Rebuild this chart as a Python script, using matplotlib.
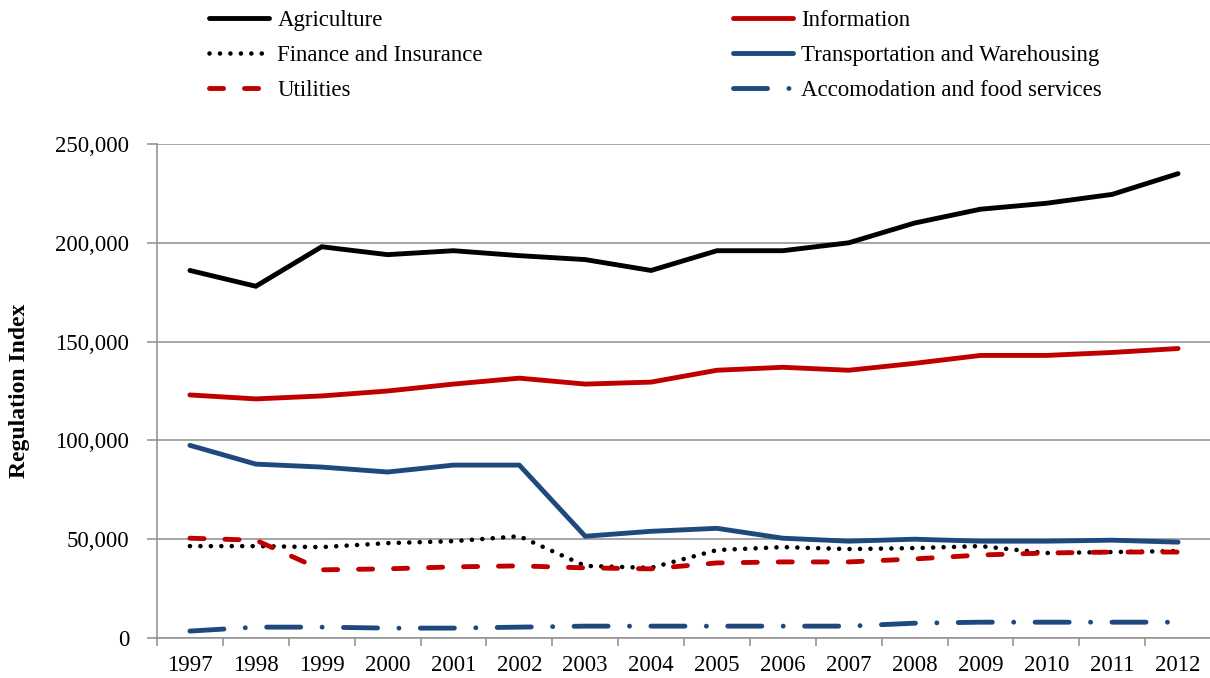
import numpy as np
import matplotlib.pyplot as plt
from matplotlib.ticker import FuncFormatter, MultipleLocator

plt.rcParams['font.family'] = ['Liberation Serif', 'DejaVu Serif']

years = [str(y) for y in range(1997, 2013)]

agriculture = [186000, 178000, 198000, 194000, 196000, 193500, 191500, 186000,
               196000, 196000, 200000, 210000, 217000, 220000, 224500, 235000]
information = [123000, 121000, 122500, 125000, 128500, 131500, 128500, 129500,
               135500, 137000, 135500, 139000, 143000, 143000, 144500, 146500]
finance = [46500, 46500, 46000, 48000, 49000, 51500, 36500, 35500,
           44500, 46000, 45000, 45500, 46500, 43000, 43500, 44000]
transportation = [97500, 88000, 86500, 84000, 87500, 87500, 51500, 54000,
                  55500, 50500, 49000, 50000, 49000, 49000, 49500, 48500]
utilities = [50500, 49500, 34500, 35000, 36000, 36500, 35500, 35000,
             38000, 38500, 38500, 40000, 42000, 43000, 43500, 43500]
accommodation = [3500, 5500, 5500, 5000, 5000, 5500, 6000, 6000,
                 6000, 6000, 6000, 7500, 8000, 8000, 8000, 8000]

RED = '#C00000'
BLUE = '#1F497D'
GRID = '#969696'
FS = 16.5

fig = plt.figure(figsize=(12.1, 6.78), dpi=100)
ax = fig.add_axes([157 / 1210, 1 - 638 / 678, 1054 / 1210, (638 - 144) / 678])

x = np.arange(len(years))
lw = 3.5

ax.plot(x, agriculture, color='black', lw=lw, label='Agriculture',
        solid_joinstyle='miter', solid_capstyle='round')
ax.plot(x, finance, color='black', lw=3.3, dashes=(0.01, 2.27),
        dash_capstyle='round', label='Finance and Insurance')
ax.plot(x, utilities, color=RED, lw=lw, dashes=(2.9, 4.3),
        dash_capstyle='round', label='Utilities')
ax.plot(x, information, color=RED, lw=lw, label='Information',
        solid_capstyle='round')
ax.plot(x, transportation, color=BLUE, lw=lw, solid_capstyle='round',
        label='Transportation and Warehousing')
ax.plot(x, accommodation, color=BLUE, lw=lw, dashes=(7.0, 4.4, 0.01, 4.4),
        dash_capstyle='round', label='Accomodation and food services')

ax.set_xlim(-0.5, len(years) - 0.5)
ax.set_ylim(0, 250000)
ax.yaxis.set_major_locator(MultipleLocator(50000))
ax.yaxis.set_major_formatter(FuncFormatter(lambda v, p: f'{int(v):,}'))
ax.grid(axis='y', color=GRID, lw=1.2)
ax.set_axisbelow(True)

ax.set_xticks(x)
ax.set_xticklabels(years)
ax.set_xticks(np.arange(-0.5, len(years)), minor=True)
ax.tick_params(axis='x', which='major', length=0, pad=12, labelsize=FS)
ax.tick_params(axis='x', which='minor', length=6, color=GRID, width=1.2)
ax.tick_params(axis='y', length=7, color=GRID, width=1.2, pad=13,
               labelsize=FS)

for s in ['top', 'right']:
    ax.spines[s].set_visible(False)
for s in ['left', 'bottom']:
    ax.spines[s].set_color(GRID)
    ax.spines[s].set_linewidth(1.2)

ax.set_ylabel('Regulation Index', fontsize=17, fontweight='bold', labelpad=18)

fig.legend(loc='upper left', bbox_to_anchor=(0.156, 1.015), ncol=2,
           frameon=False, fontsize=FS, handlelength=2.6, handletextpad=0.37,
           columnspacing=10.93, labelspacing=0.6)

fig.savefig('out.png', dpi=100)
